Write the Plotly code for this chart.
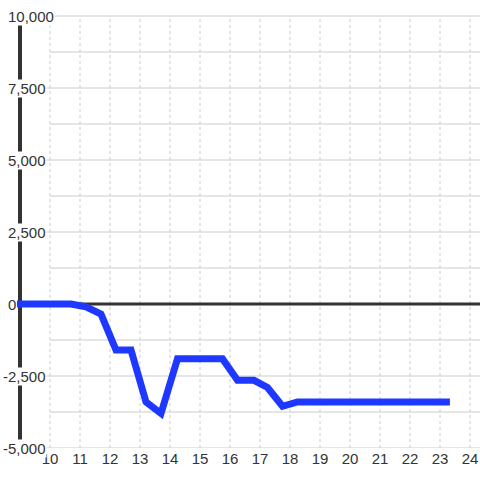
import plotly.graph_objects as go

# ---- data ----
hours = [8.9, 10.7, 11.2, 11.7, 12.2, 12.7, 13.2, 13.7, 14.25, 15.75, 16.25, 16.8, 17.25, 17.75, 18.25, 23.33]
values = [0, 0, -100, -350, -1600, -1600, -3400, -3800, -1900, -1900, -2650, -2650, -2900, -3550, -3400, -3400]
x_ticks = list(range(10, 25))
y_major = [-5000, -2500, 0, 2500, 5000, 7500, 10000]
y_minor = [-3750, -1250, 1250, 3750, 6250, 8750]

X_MIN, X_MAX = 8.3333, 24.3333
Y_MIN, Y_MAX = -5000, 10555.6
AXIS_X = 9.0
GRID = "#cccccc"
DARK = "#333333"
FONT = "Liberation Sans, Arial, sans-serif"

fig = go.Figure()

shapes = []
# vertical dotted grid
for t in x_ticks:
    shapes.append(dict(type="line", xref="x", yref="y", x0=t, x1=t, y0=-5000, y1=10000,
                       line=dict(color=GRID, width=1, dash="3px,3px"), layer="below"))
# horizontal grid
for v in y_major:
    if v == 0:
        continue
    shapes.append(dict(type="line", xref="x", yref="y", x0=AXIS_X, x1=X_MAX, y0=v, y1=v,
                       line=dict(color=GRID, width=1), layer="below"))
for v in y_minor:
    shapes.append(dict(type="line", xref="x", yref="y", x0=10, x1=X_MAX, y0=v, y1=v,
                       line=dict(color=GRID, width=1), layer="below"))
# zero line
shapes.append(dict(type="line", xref="x", yref="y", x0=AXIS_X, x1=X_MAX, y0=0, y1=0,
                   line=dict(color=DARK, width=3), layer="below"))
# y axis line
shapes.append(dict(type="line", xref="x", yref="y", x0=AXIS_X, x1=AXIS_X, y0=-5000, y1=10000,
                   line=dict(color=DARK, width=4), layer="below"))

fig.add_trace(go.Scatter(x=hours, y=values, mode="lines",
                         line=dict(color="#1f38ff", width=7),
                         hoverinfo="skip", showlegend=False))

annotations = []
for v in y_major:
    txt = f"{v:,}"
    xpx = 7 if v >= 0 else 2
    annotations.append(dict(text=txt, xref="paper", yref="y", x=xpx / 480, y=v,
                            xanchor="left", yanchor="middle", showarrow=False,
                            bgcolor="white", borderpad=0,
                            font=dict(size=15, color=DARK, family=FONT)))

fig.update_layout(
    width=480, height=480,
    margin=dict(l=0, r=0, t=0, b=32),
    paper_bgcolor="white", plot_bgcolor="white",
    shapes=shapes, annotations=annotations,
    hovermode=False,
    xaxis=dict(range=[X_MIN, X_MAX], showgrid=False, zeroline=False, showline=False,
               tickvals=x_ticks, ticktext=[str(t) for t in x_ticks], ticks="",
               tickfont=dict(size=15, color=DARK, family=FONT)),
    yaxis=dict(range=[Y_MIN, Y_MAX], showgrid=False, zeroline=False, showline=False,
               showticklabels=False, ticks=""),
)

fig.write_html("out.html", config={"displayModeBar": False},
               post_script="document.body.style.margin='0';document.body.style.padding='0';")
